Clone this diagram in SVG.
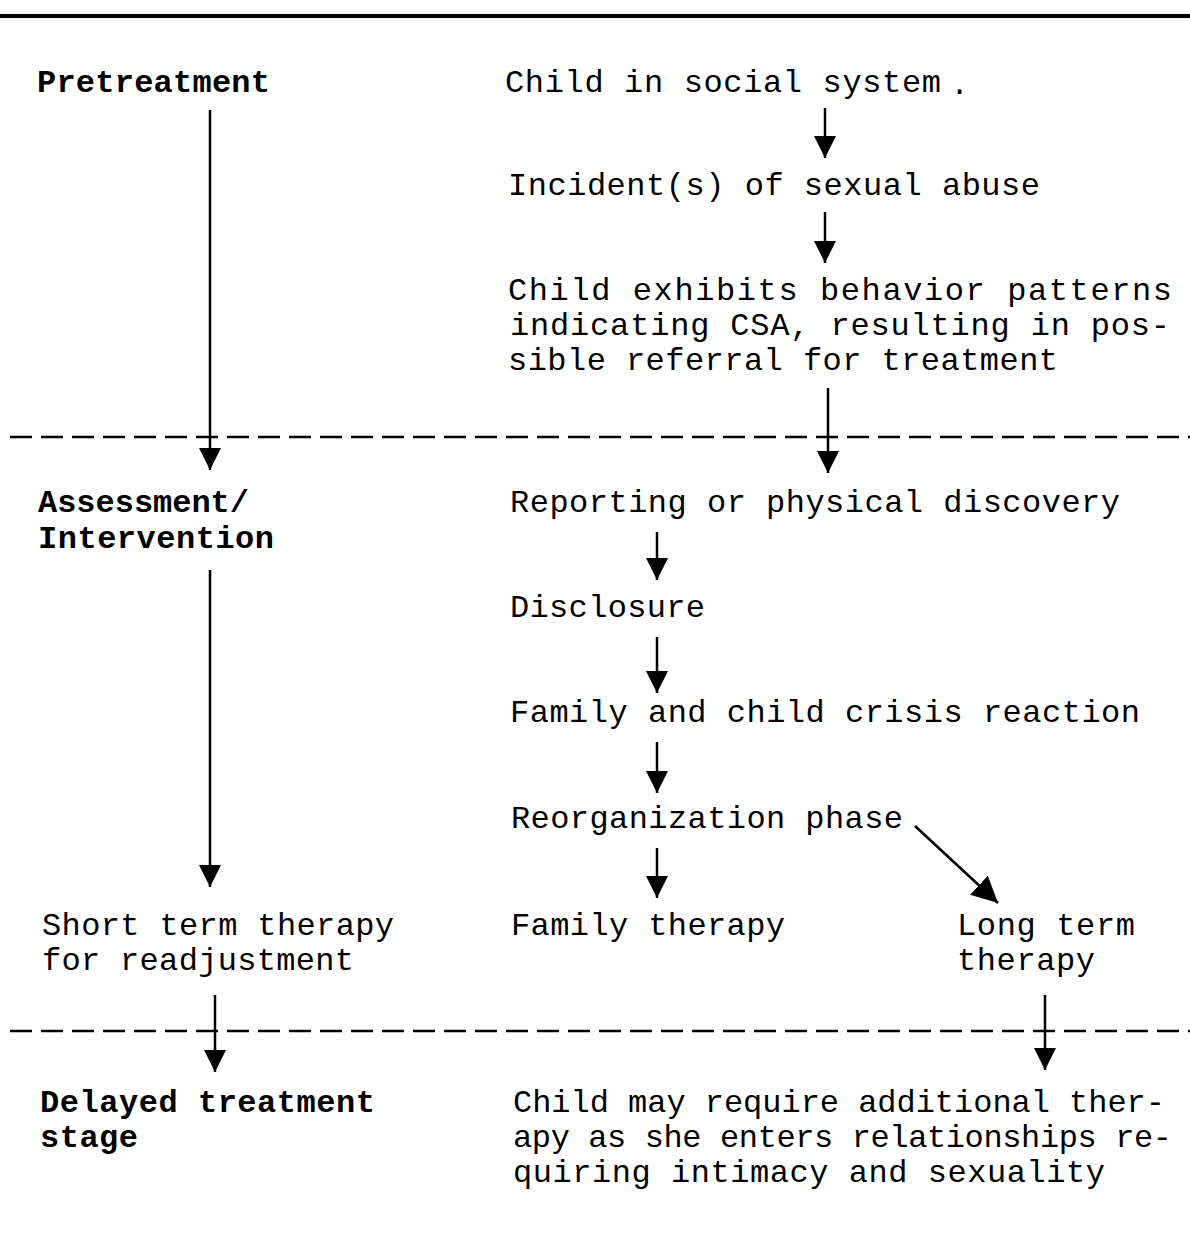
<svg xmlns="http://www.w3.org/2000/svg" width="1190" height="1236" viewBox="0 0 1190 1236">
<style>
text{font-family:"Liberation Mono","Courier New",monospace;font-size:32px;fill:#000}
.b{font-weight:bold}
.ln{stroke:#000;stroke-width:2.5;fill:none}
.dash{stroke:#000;stroke-width:2.5;stroke-dasharray:22 9;fill:none}
</style>
<defs>
<marker id="ah" markerUnits="userSpaceOnUse" markerWidth="22" markerHeight="22" refX="20" refY="10" orient="auto" viewBox="0 0 20 20">
<path d="M0,0 L20,10 L0,20 z" fill="#000"/>
</marker>
<marker id="ahb" markerUnits="userSpaceOnUse" markerWidth="26" markerHeight="26" refX="24" refY="12" orient="auto" viewBox="0 0 24 24">
<path d="M0,0 L24,12 L0,24 z" fill="#000"/>
</marker>
</defs>
<rect width="1190" height="1236" fill="#fff"/>
<line x1="0" y1="16" x2="1190" y2="16" stroke="#000" stroke-width="4"/>
<line class="dash" x1="10" y1="437" x2="1190" y2="437"/>
<line class="dash" x1="10" y1="1031" x2="1190" y2="1031"/>

<g id="stage-pretreatment"><text class="b" x="37" y="92" textLength="233">Pretreatment</text></g>
<g id="n1"><text x="505" y="92" textLength="436">Child in social system</text><text x="950" y="94">.</text></g>
<g id="n2"><text x="508" y="195" textLength="532">Incident(s) of sexual abuse</text></g>
<g id="n3">
<text x="508" y="300" textLength="664">Child exhibits behavior patterns</text>
<text x="510" y="335" textLength="660">indicating CSA, resulting in pos-</text>
<text x="508" y="370" textLength="550">sible referral for treatment</text>
</g>
<g id="stage-assessment">
<text class="b" x="38" y="512" textLength="211">Assessment/</text>
<text class="b" x="38" y="548" textLength="236">Intervention</text>
</g>
<g id="n4"><text x="510" y="512" textLength="610">Reporting or physical discovery</text></g>
<g id="n5"><text x="510" y="617" textLength="195">Disclosure</text></g>
<g id="n6"><text x="510" y="722" textLength="630">Family and child crisis reaction</text></g>
<g id="n7"><text x="511" y="828" textLength="392">Reorganization phase</text></g>
<g id="n8">
<text x="42" y="935" textLength="352">Short term therapy</text>
<text x="42" y="970" textLength="312">for readjustment</text>
</g>
<g id="n9"><text x="511" y="935" textLength="274">Family therapy</text></g>
<g id="n10">
<text x="957" y="935" textLength="178">Long term</text>
<text x="957" y="970" textLength="138">therapy</text>
</g>
<g id="stage-delayed">
<text class="b" x="40" y="1112" textLength="335">Delayed treatment</text>
<text class="b" x="40" y="1147" textLength="98">stage</text>
</g>
<g id="n11">
<text x="513" y="1112" textLength="652">Child may require additional ther-</text>
<text x="513" y="1147" textLength="659">apy as she enters relationships re-</text>
<text x="513" y="1182" textLength="592">quiring intimacy and sexuality</text>
</g>

<g id="connectors">
<line class="ln" x1="825" y1="108" x2="825" y2="158" marker-end="url(#ah)"/>
<line class="ln" x1="825" y1="212" x2="825" y2="263" marker-end="url(#ah)"/>
<line class="ln" x1="828" y1="388" x2="828" y2="473" marker-end="url(#ah)"/>
<line class="ln" x1="210" y1="110" x2="210" y2="470" marker-end="url(#ah)"/>
<line class="ln" x1="657" y1="532" x2="657" y2="580" marker-end="url(#ah)"/>
<line class="ln" x1="657" y1="637" x2="657" y2="693" marker-end="url(#ah)"/>
<line class="ln" x1="657" y1="742" x2="657" y2="793" marker-end="url(#ah)"/>
<line class="ln" x1="657" y1="848" x2="657" y2="898" marker-end="url(#ah)"/>
<line class="ln" x1="915" y1="826" x2="998" y2="903" stroke-width="4" marker-end="url(#ahb)"/>
<line class="ln" x1="210" y1="570" x2="210" y2="887" marker-end="url(#ah)"/>
<line class="ln" x1="215" y1="995" x2="215" y2="1072" marker-end="url(#ah)"/>
<line class="ln" x1="1045" y1="995" x2="1045" y2="1070" marker-end="url(#ah)"/>
</g>
</svg>
